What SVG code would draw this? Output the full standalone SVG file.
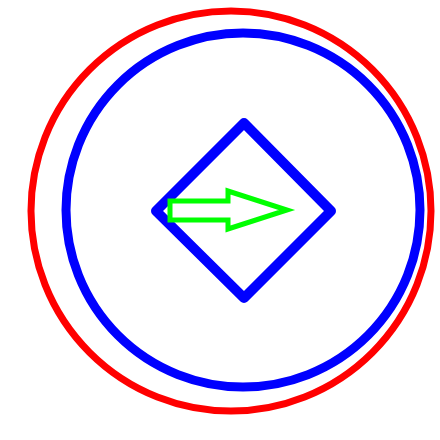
<svg xmlns="http://www.w3.org/2000/svg" width="440" height="440" viewBox="0 0 440 440">
<style>
.red{fill:none;stroke:#ff0000;stroke-width:7}
.blue{fill:none;stroke:#0000ff;stroke-width:9}
.dia{fill:none;stroke:#0000ff;stroke-width:10;stroke-linejoin:round}
.arrow{fill:none;stroke:#00ff00;stroke-width:5;stroke-linejoin:miter}
</style>
<rect width="440" height="440" fill="#ffffff"/>
<g id="red-circle"><circle class="red" cx="231" cy="211" r="200"/></g>
<g id="blue-circle"><circle class="blue" cx="243" cy="210" r="177"/></g>
<g id="diamond"><polygon class="dia" points="244,123 331,211 244,298 156,211"/></g>
<g id="arrow"><polygon class="arrow" points="170,201 228,201 228,191 287,210 228,229 228,220 170,220"/></g>
</svg>
